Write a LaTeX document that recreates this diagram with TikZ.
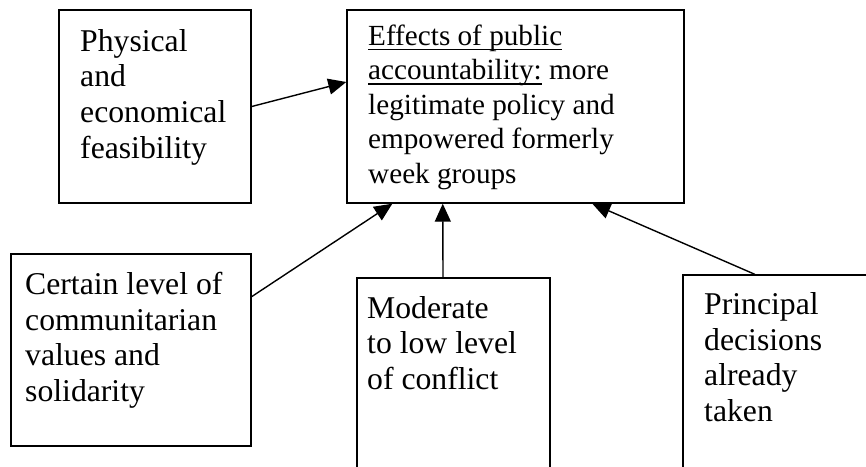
\documentclass[tikz,border=0pt]{standalone}
\usepackage{fontspec}
\setmainfont{Liberation Serif}
\usetikzlibrary{arrows.meta,calc}
% underline sitting a fixed distance below the baseline
\newcommand\undl[1]{\leavevmode\setbox0\hbox{#1}\rlap{\rule[-5pt]{\wd0}{1.5pt}}\box0\relax}
\begin{document}
\begin{tikzpicture}[x=1pt,y=-1pt,
  box/.style={draw, line width=1.4pt, inner sep=0pt, rectangle},
  label/.style={anchor=base west, inner sep=0pt, font=\fontsize{31.7}{35.7}\selectfont},
  small label/.style={label, font=\fontsize{29.2}{34.5}\selectfont},
  link/.style={line width=1.4pt, -{Triangle[length=18pt,width=16pt]}}]
\useasboundingbox (0,0) rectangle (866,466);
\clip (0,0) rectangle (866,466);
\fill[white] (0,0) rectangle (866,466);

% boxes (the lower ones run past the edge of the page)
\node[box, minimum width=192pt, minimum height=193pt] (phys) at (155,106.5) {};
\node[box, minimum width=337pt, minimum height=193pt] (eff)  at (515.5,106.5) {};
\node[box, minimum width=240pt, minimum height=192pt] (comm) at (131,350) {};
\node[box, minimum width=193pt, minimum height=212pt] (conf) at (453.5,384) {};
\node[box, minimum width=200pt, minimum height=212pt] (prin) at (783,381) {};

% texts
\node[label] (physT) at (80,51) {\parbox[t]{170pt}{\raggedright
  Physical\\and\\economical\\feasibility}};
\node[small label] (effT) at (368,45) {\parbox[t]{320pt}{\raggedright
  \undl{Effects of public}\\\undl{accountability:} more\\legitimate policy and\\empowered formerly\\week groups}};
\node[label] (commT) at (25,294.5) {\parbox[t]{230pt}{\raggedright
  Certain level of\\communitarian\\values and\\solidarity}};
\node[label] (confT) at (367,318) {\parbox[t]{180pt}{\raggedright
  Moderate\\to low level\\of conflict}};
\node[label] (prinT) at (704,314.5) {\parbox[t]{160pt}{\raggedright
  Principal\\decisions\\already\\taken}};

% connector end points on the box edges
\coordinate (effW)  at ($(eff.north west)!0.374!(eff.south west)$);
\coordinate (effS1) at ($(eff.south west)!0.136!(eff.south east)$);
\coordinate (effS2) at ($(eff.south west)!0.285!(eff.south east)$);
\coordinate (effS3) at ($(eff.south west)!0.727!(eff.south east)$);
\coordinate (commE) at ($(comm.north east)!0.224!(comm.south east)$);
\coordinate (confN) at ($(conf.north west)!0.446!(conf.north east)$);
\coordinate (prinN) at ($(prin.north west)!0.36!(prin.north east)$);

% connectors
\draw[link] (phys.east) -- (effW);
\draw[link] (commE) -- (effS1);
\draw[link] (confN) -- (effS2);
\draw[link] (prinN) -- (effS3);
\end{tikzpicture}
\end{document}
